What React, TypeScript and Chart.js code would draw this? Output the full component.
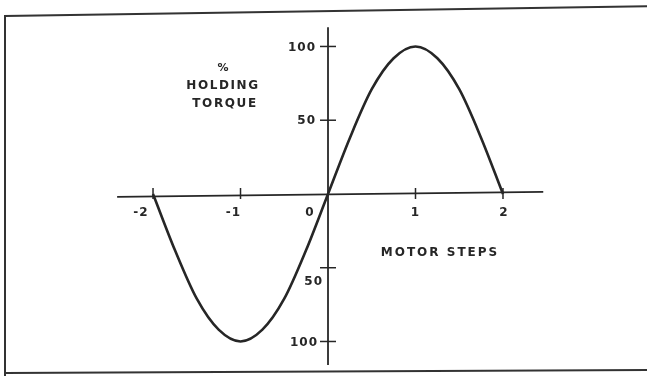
import React, { useEffect, useRef } from "react";
import { Chart, registerables } from "chart.js";

Chart.register(...registerables);

// Data
const motorSteps = [-2, -1.75, -1.5, -1.25, -1, -0.75, -0.5, -0.25, 0, 0.25, 0.5, 0.75, 1, 1.25, 1.5, 1.75, 2];
const holdingTorque = [0, -38, -71, -92, -100, -92, -71, -38, 0, 38, 71, 92, 100, 92, 71, 38, 0];
const xTickValues = [-2, -1, 0, 1, 2];
const xTickLabels = ["-2", "-1", "0", "1", "2"];
const yTickValues = [100, 50, -50, -100];
const yTickLabels = ["100", "50", "50", "100"];
const yAxisTitleLines = ["%", "HOLDING", "TORQUE"];
const xAxisTitle = "MOTOR STEPS";
const xAxisRange = [-2.41, 2.46];
const yAxisRange = [-116, 113];

const INK = "#262626";

const schematicPlugin = {
  id: "schematic",
  beforeDatasetsDraw(chart: any) {
    const ctx = chart.ctx as CanvasRenderingContext2D;
    const xs = chart.scales.x;
    const ys = chart.scales.y;
    const x0 = xs.getPixelForValue(0);
    const y0 = ys.getPixelForValue(0);
    ctx.save();
    // frame
    ctx.strokeStyle = "#333";
    ctx.lineWidth = 2;
    ctx.beginPath();
    ctx.moveTo(5, 380);
    ctx.lineTo(5, 16);
    ctx.lineTo(660, 6);
    ctx.moveTo(5, 373);
    ctx.lineTo(660, 370);
    ctx.stroke();

    ctx.strokeStyle = INK;
    ctx.lineWidth = 1.8;
    // x axis
    ctx.beginPath();
    ctx.moveTo(xs.getPixelForValue(xAxisRange[0]), y0 + 3);
    ctx.lineTo(xs.getPixelForValue(xAxisRange[1]), y0 - 2);
    ctx.stroke();
    // y axis
    ctx.beginPath();
    ctx.moveTo(x0, ys.getPixelForValue(yAxisRange[1]));
    ctx.lineTo(x0, ys.getPixelForValue(yAxisRange[0]));
    ctx.stroke();
    // x ticks
    ctx.lineWidth = 1.5;
    xTickValues.forEach((v) => {
      if (v === 0) return;
      const px = xs.getPixelForValue(v);
      ctx.beginPath();
      ctx.moveTo(px, y0 - 6);
      ctx.lineTo(px, y0 + 5);
      ctx.stroke();
    });
    // y ticks
    yTickValues.forEach((v) => {
      const py = ys.getPixelForValue(v);
      ctx.beginPath();
      ctx.moveTo(x0 - 8, py);
      ctx.lineTo(x0 + 8, py);
      ctx.stroke();
    });
    ctx.restore();
  },
  afterDatasetsDraw(chart: any) {
    const ctx = chart.ctx as CanvasRenderingContext2D;
    const xs = chart.scales.x;
    const ys = chart.scales.y;
    const x0 = xs.getPixelForValue(0);
    const y0 = ys.getPixelForValue(0);
    ctx.save();
    ctx.fillStyle = INK;
    ctx.textBaseline = "middle";
    // y tick labels
    ctx.font = "bold 12px 'DejaVu Sans'";
    (ctx as any).letterSpacing = "1px";
    ctx.textAlign = "right";
    yTickValues.forEach((v, i) => {
      const py = ys.getPixelForValue(v);
      const shiftDown = v === -50 ? 14 : 1;
      const shiftX = v === -50 ? -5 : v === -100 ? -10 : -12;
      ctx.fillText(yTickLabels[i], x0 + shiftX, py + shiftDown);
    });
    // x tick labels
    ctx.textAlign = "center";
    const xShifts = [-12, -7, -18, 0, 1];
    xTickValues.forEach((v, i) => {
      const px = xs.getPixelForValue(v);
      ctx.fillText(xTickLabels[i], px + xShifts[i], y0 + 19);
    });
    // y axis title
    const tx = x0 - 105;
    (ctx as any).letterSpacing = "0px";
    ctx.font = "bold 11px 'DejaVu Sans'";
    ctx.fillText(yAxisTitleLines[0], tx, ys.getPixelForValue(85));
    (ctx as any).letterSpacing = "1.6px";
    ctx.font = "bold 12px 'DejaVu Sans'";
    ctx.fillText(yAxisTitleLines[1], tx, ys.getPixelForValue(73));
    ctx.fillText(yAxisTitleLines[2], tx + 2, ys.getPixelForValue(61));
    // x axis title
    (ctx as any).letterSpacing = "2px";
    ctx.fillText(xAxisTitle, xs.getPixelForValue(1.28), ys.getPixelForValue(-40));
    ctx.restore();
  },
};

export default function App() {
  const canvasRef = useRef<HTMLCanvasElement | null>(null);

  useEffect(() => {
    if (!canvasRef.current) return;
    const chart = new Chart(canvasRef.current, {
      type: "line",
      data: {
        datasets: [
          {
            data: motorSteps.map((s, i) => ({ x: s, y: holdingTorque[i] })),
            borderColor: INK,
            borderWidth: 2.6,
            pointRadius: 0,
            cubicInterpolationMode: "monotone",
            fill: false,
          },
        ],
      },
      options: {
        responsive: false,
        animation: false,
        devicePixelRatio: 1,
        layout: { padding: 0 },
        plugins: { legend: { display: false }, tooltip: { enabled: false } },
        scales: {
          x: { type: "linear", min: -3.749, max: 3.646, display: false },
          y: { type: "linear", min: -123.4, max: 131.5, display: false },
        },
      },
      plugins: [schematicPlugin],
    });
    return () => chart.destroy();
  }, []);

  return (
    <div style={{ position: "absolute", left: 0, top: 0, width: 647, height: 376, background: "#fff" }}>
      <canvas ref={canvasRef} width={647} height={376} style={{ display: "block" }} />
    </div>
  );
}
